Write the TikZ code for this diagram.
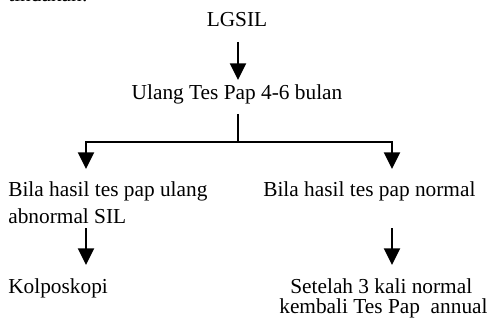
\documentclass[tikz,border=0pt]{standalone}
\usepackage{fontspec}
\setmainfont{Liberation Serif}
\usetikzlibrary{arrows.meta}
\begin{document}
\begin{tikzpicture}[x=0.6pt,y=-0.6pt,
  txt/.style={inner sep=0pt,font=\fontsize{12.8}{15.36}\selectfont},
  flow/.style={line width=1.2pt},
  flowarrow/.style={flow,-{Triangle[length=10pt,width=9.6pt]}}]
\useasboundingbox (0,0) rectangle (495,325);
\begin{scope}
\clip (0,0) rectangle (495,325);
\node[txt,anchor=base west] (lead) at (8,2) {tindakan:};
\end{scope}
% main column
\node[txt,anchor=base] (lgsil) at (237,27) {LGSIL};
\node[txt,anchor=base] (ulang) at (237,100) {Ulang Tes Pap 4-6 bulan};
% branch outcomes (multi-line nodes: base is the last line)
\node[txt,anchor=base west,align=left] (abn) at (8,223)
  {Bila hasil tes pap ulang\\[0.24pt]abnormal SIL};
\node[txt,anchor=base west] (norm) at (263,197) {Bila hasil tes pap normal};
\node[txt,anchor=base west] (kolpo) at (8,293) {Kolposkopi};
\node[txt,anchor=base west,align=left] (annual) at (279,313)
  {\hspace*{6.6pt}Setelah 3 kali normal\\[-3.36pt]kembali Tes Pap\ \ annual};
% junction points of the split
\coordinate (split) at (238,142);
\coordinate (lsplit) at (86,142);
\coordinate (rsplit) at (392,142);
% connectors
\draw[flowarrow] (238,42) -- (238,80);
\draw[flow] (238,114) -- (split);
\draw[flow,line cap=rect] (lsplit) -- (rsplit);
\draw[flowarrow] (lsplit) -- (86,169);
\draw[flowarrow] (rsplit) -- (392,169);
\draw[flowarrow] (86,228) -- (86,265);
\draw[flowarrow] (392,228) -- (392,265);
\end{tikzpicture}
\end{document}
